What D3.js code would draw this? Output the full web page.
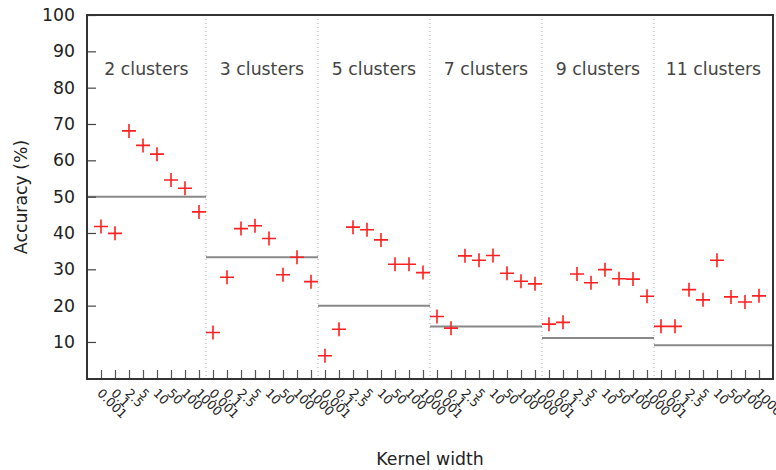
<!DOCTYPE html>
<html>
<head>
<meta charset="utf-8">
<script src="https://cdn.jsdelivr.net/npm/d3@7"></script>
<style>
  body { margin: 0; background: #fff; }
  svg text { font-family: "DejaVu Sans", sans-serif; }
</style>
</head>
<body>
<div id="chart"></div>
<script>
// cluster groups and kernel widths
var clusters = [2, 3, 5, 7, 9, 11];
var kernels = ["0.001", "0.1", "2.5", "5", "10", "50", "100", "1000"];
var yTicks = [10, 20, 30, 40, 50, 60, 70, 80, 90, 100];

// accuracy (%) per group, one value per kernel width
var acc2  = [41.8, 39.9, 68.1, 64.1, 61.7, 54.6, 52.3, 45.8];
var acc3  = [12.6, 27.8, 41.2, 42.0, 38.5, 28.5, 33.3, 26.6];
var acc5  = [6.2, 13.5, 41.6, 40.9, 38.1, 31.4, 31.4, 29.1];
var acc7  = [17.0, 13.8, 33.7, 32.5, 33.8, 28.9, 26.7, 26.0];
var acc9  = [14.9, 15.4, 28.7, 26.3, 29.9, 27.4, 27.3, 22.6];
var acc11 = [14.3, 14.3, 24.4, 21.6, 32.5, 22.4, 21.0, 22.7];
var accuracy = [acc2, acc3, acc5, acc7, acc9, acc11];

var W = 776, H = 470;
var pLeft = 87, pRight = 773, pTop = 15, pBottom = 379;
var fontSize = 17.3;

var svg = d3.select('#chart').append('svg')
    .attr('width', W)
    .attr('height', H);

// flat list of points
var points = [];
clusters.forEach(function (c, g) {
    kernels.forEach(function (k, i) {
        points.push({ key: g + '-' + i, group: g, kernel: k, value: accuracy[g][i] });
    });
});

var x = d3.scalePoint()
    .domain(points.map(d => d.key))
    .range([pLeft, pRight])
    .padding(1);
var step = x.step();

var y = d3.scaleLinear().domain([0, 100]).range([pBottom - 0.7, pTop]);

// group boundaries
var groupStart = g => g === 0 ? pLeft : x(g + '-0') - step / 2;
var groupEnd = g => g === clusters.length - 1 ? pRight : x(g + '-7') + step / 2;

// dotted dividers
svg.append('g').selectAll('line')
    .data(clusters.slice(1))
    .enter().append('line')
    .attr('x1', (d, i) => groupStart(i + 1))
    .attr('x2', (d, i) => groupStart(i + 1))
    .attr('y1', pTop)
    .attr('y2', pBottom)
    .attr('stroke', '#aaa')
    .attr('stroke-width', 1)
    .attr('stroke-dasharray', '1,3');

// chance level lines
svg.append('g').selectAll('line')
    .data(clusters)
    .enter().append('line')
    .attr('x1', (d, i) => groupStart(i))
    .attr('x2', (d, i) => groupEnd(i))
    .attr('y1', d => y(100 / d))
    .attr('y2', d => y(100 / d))
    .attr('stroke', '#888')
    .attr('stroke-width', 2);

// group labels
svg.append('g').selectAll('text')
    .data(clusters)
    .enter().append('text')
    .attr('x', (d, i) => (groupStart(i) + groupEnd(i)) / 2)
    .attr('y', 75)
    .attr('text-anchor', 'middle')
    .attr('font-size', fontSize)
    .attr('fill', '#444')
    .text(d => d + ' clusters');

// y axis, ticks pointing inwards
var yAxis = svg.append('g')
    .attr('transform', 'translate(' + pLeft + ',0)')
    .call(d3.axisLeft(y).tickValues(yTicks).tickSize(-9).tickPadding(12));
yAxis.select('.domain').remove();
yAxis.selectAll('line').attr('stroke', '#444').attr('stroke-width', 1.2);
yAxis.selectAll('text').attr('font-size', fontSize).attr('fill', '#222');

// x axis, ticks pointing inwards, rotated labels
var xAxis = svg.append('g')
    .attr('transform', 'translate(0,' + pBottom + ')')
    .call(d3.axisBottom(x).tickSize(-9).tickFormat(k => points.find(p => p.key === k).kernel));
xAxis.select('.domain').remove();
xAxis.selectAll('line').attr('stroke', '#555').attr('stroke-width', 1.2);
xAxis.selectAll('text')
    .attr('font-size', 12.5)
    .attr('fill', '#222')
    .attr('text-anchor', 'start')
    .attr('y', 0)
    .attr('dy', '0.35em')
    .attr('transform', 'translate(-2,12) rotate(45)');

// frame
svg.append('rect')
    .attr('x', pLeft)
    .attr('y', pTop)
    .attr('width', pRight - pLeft)
    .attr('height', pBottom - pTop)
    .attr('fill', 'none')
    .attr('stroke', '#333')
    .attr('stroke-width', 2);

// plus markers
var s = 7;
var marks = svg.append('g').selectAll('g')
    .data(points)
    .enter().append('g')
    .attr('transform', d => 'translate(' + x(d.key) + ',' + y(d.value) + ')');
marks.append('path')
    .attr('d', 'M' + (-s) + ',0H' + s + 'M0,' + (-s) + 'V' + s)
    .attr('stroke', '#ff2020')
    .attr('stroke-width', 1.6)
    .attr('fill', 'none');

// axis titles
svg.append('text')
    .attr('x', (pLeft + pRight) / 2)
    .attr('y', 465)
    .attr('text-anchor', 'middle')
    .attr('font-size', fontSize)
    .attr('fill', '#222')
    .text('Kernel width');

svg.append('text')
    .attr('transform', 'translate(26.5,' + (pTop + pBottom) / 2 + ') rotate(-90)')
    .attr('text-anchor', 'middle')
    .attr('font-size', fontSize)
    .attr('fill', '#222')
    .text('Accuracy (%)');
</script>
</body>
</html>
